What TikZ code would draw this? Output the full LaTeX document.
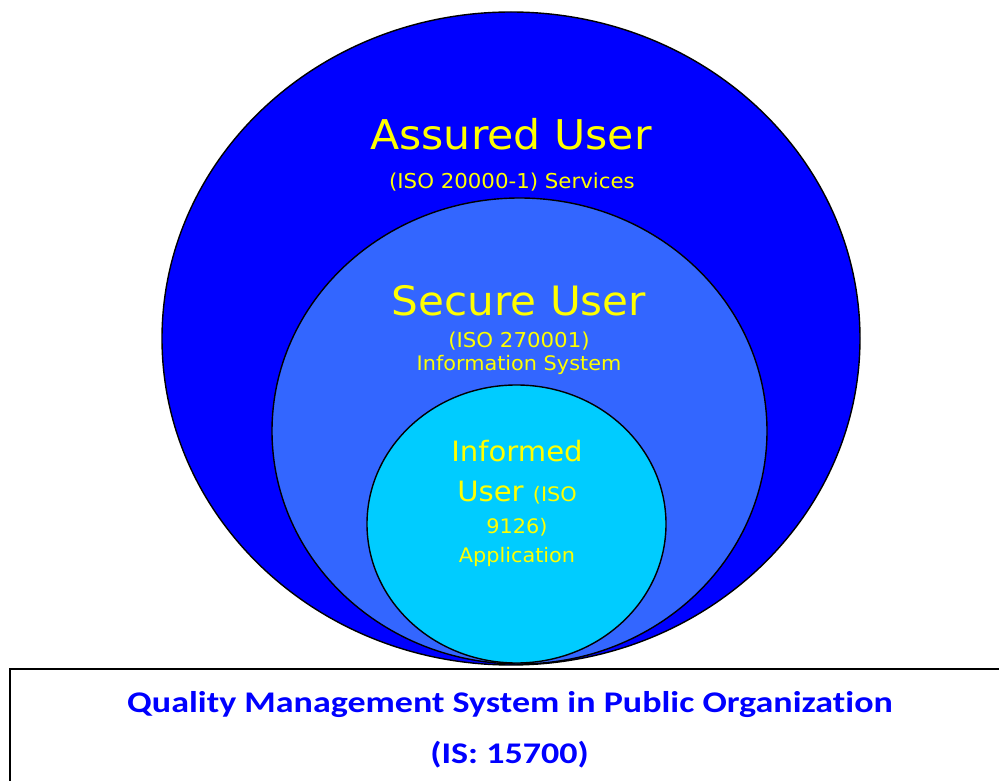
\documentclass[tikz,border=0pt]{standalone}
\usepackage{fontspec}
\setmainfont[FakeStretch=1.04]{DejaVu Sans}
\newfontfamily\qmsfont[FakeStretch=1.2, Ligatures=NoCommon]{Carlito}
\usetikzlibrary{shapes.geometric}
\definecolor{assuredblue}{HTML}{0000FF}
\definecolor{secureblue}{HTML}{3366FF}
\definecolor{informedblue}{HTML}{00CCFF}
\definecolor{labelyellow}{HTML}{FFFF00}
\begin{document}
\begin{tikzpicture}[x=1pt, y=1pt,
	ring/.style={ellipse, draw=black, line width=1.4pt, inner sep=0pt},
	ringtext/.style={anchor=base, text=labelyellow, inner sep=0pt},
	qmstext/.style={anchor=base, text=assuredblue, inner sep=0pt, font=\qmsfont\bfseries\fontsize{30}{36}\selectfont}]
	\useasboundingbox (0,0) rectangle (999,780);
	%box
	\draw[line width=1.6pt] (10,111) rectangle (1010,-10);
	%ellipses
	\node[ring, fill=assuredblue, minimum width=698, minimum height=653] (assured) at (511,441.5) {};
	\node[ring, fill=secureblue, minimum width=495, minimum height=466] (secure) at (519.5,349) {};
	\node[ring, fill=informedblue, minimum width=299, minimum height=278] (informed) at (516.5,256) {};
	%labels
	\node[ringtext, font=\fontsize{41}{49}\selectfont] (assured title) at (511,630) {Assured User};
	\node[ringtext, font=\fontsize{20.5}{24}\selectfont] (assured std) at (512,591) {(ISO 20000-1) Services};
	\node[ringtext, font=\fontsize{40.5}{48}\selectfont] (secure title) at (519,464) {Secure User};
	\node[ringtext, font=\fontsize{20.5}{24}\selectfont] (secure std) at (519,432) {(ISO 270001)};
	\node[ringtext, font=\fontsize{20}{24}\selectfont] (secure scope) at (519,409) {Information System};
	\node[ringtext, font=\fontsize{28}{34}\selectfont] (informed title) at (517,318) {Informed};
	\node[ringtext, font=\fontsize{28}{34}\selectfont] (informed user) at (517,278) {User {\fontsize{20}{24}\selectfont(ISO}};
	\node[ringtext, font=\fontsize{20}{24}\selectfont] (informed std) at (517,247) {9126)};
	\node[ringtext, font=\fontsize{20}{24}\selectfont] (informed scope) at (517,218) {Application};
	\node[qmstext] (qms) at (510,68) {Quality Management System in Public Organization};
	\node[qmstext] (qms std) at (509.5,17) {(IS: 15700)};
\end{tikzpicture}
\end{document}
